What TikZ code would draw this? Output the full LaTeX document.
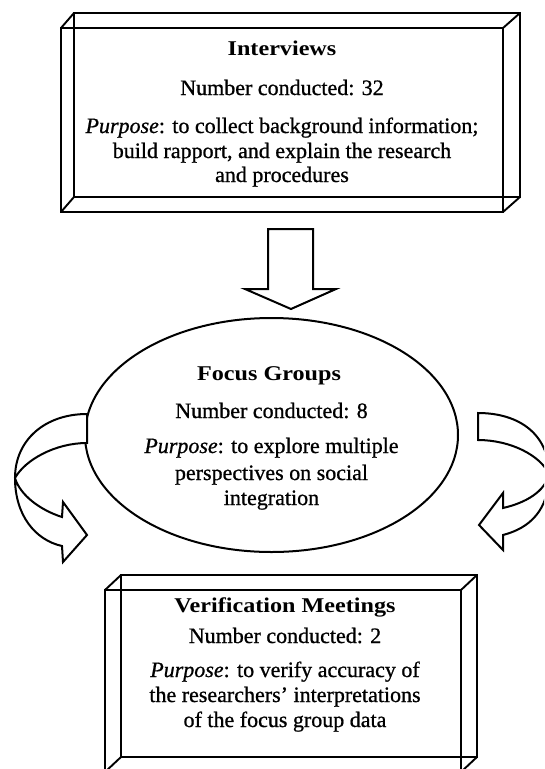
\documentclass[tikz,border=0pt]{standalone}
\usepackage{fontspec}
\setmainfont{Liberation Serif}[FakeBold=0.8]
\newfontfamily\headfont{Liberation Serif}[FakeStretch=1.15]
\usetikzlibrary{shapes.geometric}
\begin{document}
\begin{tikzpicture}[x=1pt,y=-1pt,line width=1.9pt,line join=miter,
  body/.style={anchor=base,inner sep=0pt,font=\fontsize{22}{25}\selectfont},
  head/.style={anchor=base,inner sep=0pt,font=\headfont\bfseries\fontsize{21}{25}\selectfont},
  boxline/.style={draw,line width=1.9pt},
  blockarrow/.style={draw,line width=2pt,line join=miter,fill=white}]
\clip (0,0) rectangle (544,769);
\fill[white] (0,0) rectangle (544,769);

% ---------- top box (Interviews) ----------
\coordinate (tf1) at (61,28);  \coordinate (tf2) at (503,28);
\coordinate (tf3) at (503,212); \coordinate (tf4) at (61,212);
\coordinate (tb1) at (74,13);  \coordinate (tb2) at (520,13);
\coordinate (tb3) at (520,197); \coordinate (tb4) at (74,197);
\draw[boxline] (tf1) -- (tf2) -- (tf3) -- (tf4) -- cycle;
\draw[boxline] (tb1) -- (tb2) -- (tb3) -- (tb4) -- cycle;
\draw[boxline] (tf1) -- (tb1) (tf2) -- (tb2) (tf3) -- (tb3) (tf4) -- (tb4);

\node[head] (ih) at (282,55) {Interviews};
\node[body] (in) at (282,95) {Number conducted: 32};
\node[body] (ip1) at (282,133) {\textit{Purpose}: to collect background information;};
\node[body] (ip2) at (282,158) {build rapport, and explain the research};
\node[body] (ip3) at (282,182) {and procedures};

% ---------- down arrow ----------
\draw[blockarrow] (268,229) -- (313,229) -- (313,289) -- (336,289) -- (291,309)
  -- (245,289) -- (268,289) -- cycle;

% ---------- ellipse (Focus Groups) ----------
\node[draw,ellipse,line width=2pt,minimum width=373pt,minimum height=234pt,inner sep=0pt] (fg) at (271.5,435) {};
\node[head] (fh) at (269,380) {Focus Groups};
\node[body] (fn) at (271.5,418) {Number conducted: 8};
\node[body] (fp1) at (271.5,453) {\textit{Purpose}: to explore multiple};
\node[body] (fp2) at (271.5,480) {perspectives on social};
\node[body] (fp3) at (271.5,505) {integration};

% ---------- left curved arrow ----------
\draw[blockarrow] (87,414) -- (87,443)
  .. controls (55,443) and (25,460) .. (15,478)
  .. controls (20,495) and (40,510) .. (62,517)
  -- (63,502) -- (87,535) -- (63,562) -- (62,546)
  .. controls (35,540) and (15,515) .. (15,478)
  .. controls (15,440) and (45,414) .. (87,414) -- cycle;

% ---------- right curved arrow ----------
\draw[blockarrow] (478,413) -- (478,440)
  .. controls (510,440) and (540,455) .. (549,474)
  .. controls (545,492) and (525,503) .. (503,508)
  -- (503,493) -- (479,525) -- (503,550) -- (503,535)
  .. controls (530,528) and (549,510) .. (549,474)
  .. controls (549,435) and (520,413) .. (478,413) -- cycle;

% ---------- bottom box (Verification Meetings) ----------
\coordinate (bf1) at (105,590);  \coordinate (bf2) at (461,590);
\coordinate (bf3) at (461,772); \coordinate (bf4) at (105,772);
\coordinate (bb1) at (121,575);  \coordinate (bb2) at (477,575);
\coordinate (bb3) at (477,757); \coordinate (bb4) at (121,757);
\draw[boxline] (bf1) -- (bf2) -- (bf3) -- (bf4) -- cycle;
\draw[boxline] (bb1) -- (bb2) -- (bb3) -- (bb4) -- cycle;
\draw[boxline] (bf1) -- (bb1) (bf2) -- (bb2) (bf3) -- (bb3) (bf4) -- (bb4);

\node[head] (vh) at (285,612) {Verification Meetings};
\node[body] (vn) at (285,643) {Number conducted: 2};
\node[body] (vp1) at (285,677) {\textit{Purpose}: to verify accuracy of};
\node[body] (vp2) at (285,702) {the researchers' interpretations};
\node[body] (vp3) at (285,727) {of the focus group data};
\end{tikzpicture}
\end{document}
